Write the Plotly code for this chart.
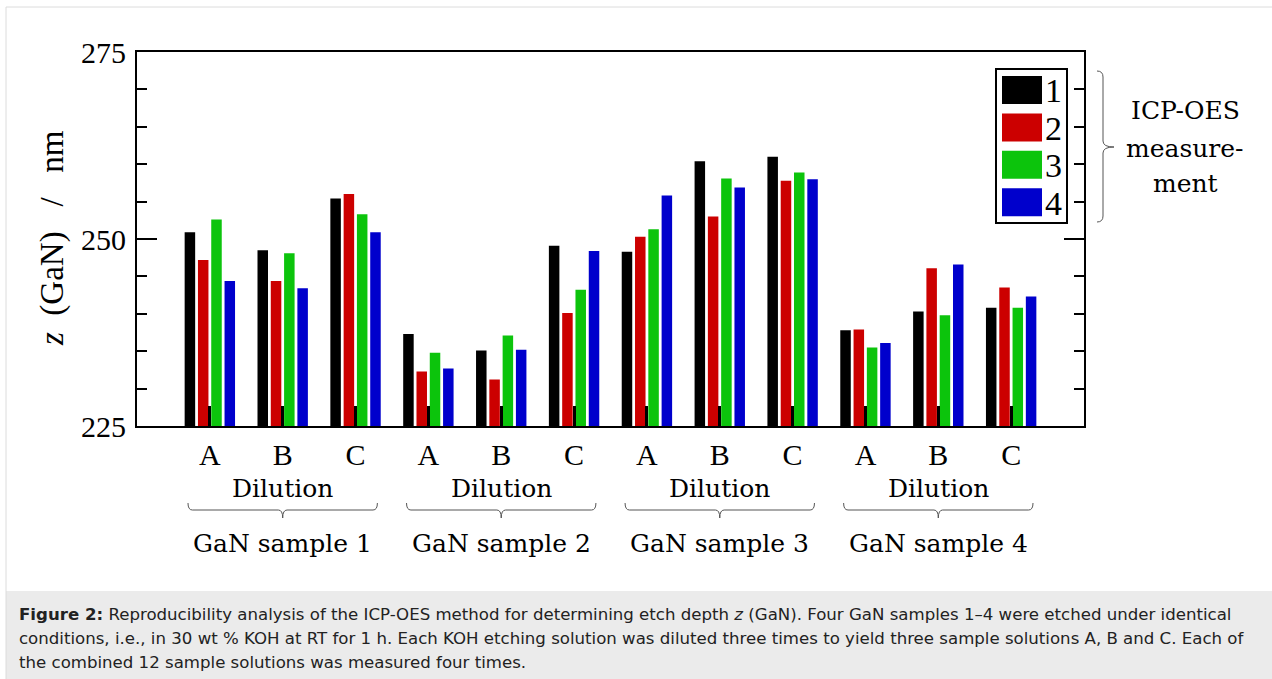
import plotly.graph_objects as go

W, H = 1272, 679

# ---------------- data ----------------
dilutions = ["A", "B", "C"] * 4
positions = list(range(1, 13))
group_centers = [2, 5, 8, 11]
samples = ["GaN sample 1", "GaN sample 2", "GaN sample 3", "GaN sample 4"]
series_names = ["1", "2", "3", "4"]
colors = ["#000000", "#cc0000", "#0cc40c", "#0000cc"]

meas1 = [250.9, 248.5, 255.4, 237.3, 235.1, 249.1, 248.3, 260.4, 261.0, 237.8, 240.3, 240.8]
meas2 = [247.2, 244.4, 256.0, 232.3, 231.2, 240.1, 250.3, 253.0, 257.8, 237.9, 246.1, 243.5]
meas3 = [252.6, 248.1, 253.3, 234.8, 237.1, 243.2, 251.3, 258.1, 258.9, 235.5, 239.8, 240.8]
meas4 = [244.4, 243.4, 250.9, 232.7, 235.2, 248.4, 255.8, 256.9, 258.0, 236.1, 246.6, 242.3]
values = [meas1, meas2, meas3, meas4]

y_ticks = [225, 250, 275]

caption_lines = [
    "<b>Figure 2:</b> Reproducibility analysis of the ICP-OES method for determining etch depth <i>z</i> (GaN). Four GaN samples 1–4 were etched under identical",
    "conditions, i.e., in 30 wt % KOH at RT for 1 h. Each KOH etching solution was diluted three times to yield three sample solutions A, B and C. Each of",
    "the combined 12 sample solutions was measured four times.",
]


def px(x):
    return x / W


def py(y):
    return 1 - y / H


SERIF = "Liberation Serif"
SERIF2 = "DejaVu Serif"

fig = go.Figure()
for name, col, vals in zip(series_names, colors, values):
    fig.add_trace(go.Bar(x=positions, y=vals, name=name,
                         marker=dict(color=col, line=dict(width=0)),
                         showlegend=False))

shapes = []
annotations = []

# caption background and outer frame
shapes.append(dict(type="rect", xref="paper", yref="paper", x0=px(6), x1=1.01,
                   y0=-0.01, y1=py(591), fillcolor="#ebebeb", line=dict(width=0), layer="below"))
shapes.append(dict(type="rect", xref="paper", yref="paper", x0=px(6), x1=1.01,
                   y0=-0.01, y1=py(7), fillcolor="rgba(0,0,0,0)", line=dict(color="#dcdcdc", width=1), layer="below"))

# legend (manual)
shapes.append(dict(type="rect", xref="paper", yref="paper", x0=px(996), x1=px(1067),
                   y0=py(223), y1=py(69), fillcolor="white", line=dict(color="black", width=2)))
for i, (name, col) in enumerate(zip(series_names, colors)):
    yc = 90 + i * 37.4
    shapes.append(dict(type="rect", xref="paper", yref="paper", x0=px(1002), x1=px(1042),
                       y0=py(yc + 14), y1=py(yc - 14), fillcolor=col, line=dict(width=0)))
    annotations.append(dict(text=name, xref="paper", yref="paper", x=px(1053), y=py(yc + 1),
                            showarrow=False, xanchor="center", yanchor="middle",
                            font=dict(family=SERIF, size=34, color="black")))

# right curly brace
bx, bl, bt, bb, bm = 1103, 1097, 71, 222, 147
brace = (f"M {px(bl)},{py(bt)} Q {px(bx)},{py(bt)} {px(bx)},{py(bt+6)} "
         f"L {px(bx)},{py(bm-6)} Q {px(bx)},{py(bm)} {px(1114)},{py(bm)} "
         f"Q {px(bx)},{py(bm)} {px(bx)},{py(bm+6)} "
         f"L {px(bx)},{py(bb-6)} Q {px(bx)},{py(bb)} {px(bl)},{py(bb)}")
shapes.append(dict(type="path", xref="paper", yref="paper", path=brace,
                   line=dict(color="#555555", width=1)))
for txt, yy in zip(["ICP-OES", "measure-", "ment"], [111, 148, 184]):
    annotations.append(dict(text=txt, xref="paper", yref="paper", x=px(1185), y=py(yy),
                            showarrow=False, xanchor="center", yanchor="middle",
                            font=dict(family=SERIF2, size=25, color="black")))

# bottom braces + group labels
for gc, sname in zip(group_centers, samples):
    x0, x1 = gc - 1.3, gc + 1.3
    yt, ym, yb = py(503), py(510), py(518)
    d = 0.06
    p = (f"M {x0},{yt} Q {x0},{ym} {x0+d},{ym} L {gc-d},{ym} Q {gc},{ym} {gc},{yb} "
         f"Q {gc},{ym} {gc+d},{ym} L {x1-d},{ym} Q {x1},{ym} {x1},{yt}")
    shapes.append(dict(type="path", xref="x", yref="paper", path=p,
                       line=dict(color="#555555", width=1)))
    annotations.append(dict(text="Dilution", xref="x", yref="paper", x=gc, y=py(488),
                            showarrow=False, xanchor="center", yanchor="middle",
                            font=dict(family=SERIF2, size=25, color="black")))
    annotations.append(dict(text=sname, xref="x", yref="paper", x=gc, y=py(543),
                            showarrow=False, xanchor="center", yanchor="middle",
                            font=dict(family=SERIF2, size=25, color="black")))

# y title
annotations.append(dict(text="<i>z</i>&nbsp;&nbsp;(GaN)&nbsp;&nbsp;&nbsp;/&nbsp;&nbsp;&nbsp;nm", xref="paper", yref="paper",
                        x=px(53), y=py(238), textangle=-90, showarrow=False,
                        xanchor="center", yanchor="middle",
                        font=dict(family=SERIF, size=33, color="black")))

# caption
for line, yy in zip(caption_lines, [614, 638, 662]):
    annotations.append(dict(text=line, xref="paper", yref="paper", x=px(17), y=py(yy),
                            showarrow=False, xanchor="left", yanchor="middle", align="left",
                            font=dict(family="DejaVu Sans", size=16.6, color="#222222")))

fig.update_layout(
    width=W, height=H,
    margin=dict(l=0, r=0, t=0, b=0, pad=0, autoexpand=False),
    paper_bgcolor="white", plot_bgcolor="white",
    barmode="group", bargap=0.27, bargroupgap=0.21,
    showlegend=False,
    xaxis=dict(domain=[px(137), px(1084)], range=[0, 13], automargin=False,
               tickmode="array", tickvals=positions, ticktext=dilutions,
               ticks="inside", ticklen=20, tickwidth=3, tickcolor="black",
               showline=True, linecolor="black", linewidth=2, mirror=True,
               showgrid=False, zeroline=False, ticklabelstandoff=1,
               tickfont=dict(family=SERIF, size=30, color="black")),
    xaxis2=dict(overlaying="x", side="top", anchor="y", range=[0, 15], automargin=False,
                tickmode="array", tickvals=list(range(1, 15)),
                ticks="inside", ticklen=19, tickwidth=2, tickcolor="black",
                showticklabels=False, showline=False, showgrid=False, zeroline=False),
    yaxis=dict(domain=[py(426), py(52)], range=[225, 275], automargin=False,
               tickmode="array", tickvals=y_ticks,
               ticks="inside", ticklen=20, tickwidth=2, tickcolor="black",
               minor=dict(dtick=5, tick0=225, ticks="inside", ticklen=10, tickwidth=2,
                          tickcolor="black", showgrid=False),
               showline=True, linecolor="black", linewidth=2, mirror="allticks",
               showgrid=False, zeroline=False, ticklabelstandoff=3,
               tickfont=dict(family=SERIF, size=30, color="black")),
    shapes=shapes,
    annotations=annotations,
)

fig.write_html("out.html")
